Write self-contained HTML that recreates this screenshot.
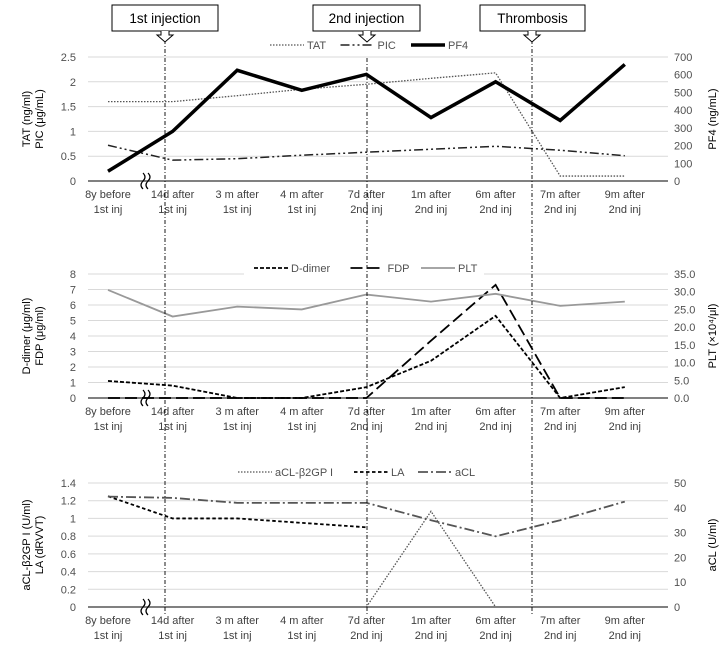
<!DOCTYPE html>
<html><head><meta charset="utf-8"><style>
body{margin:0;background:#fff;}
svg{display:block;font-family:"Liberation Sans",sans-serif;}
</style></head><body>
<svg id="c" width="728" height="648"></svg>
<script>
const categories=["8y before|1st inj","14d after|1st inj","3 m after|1st inj","4 m after|1st inj","7d after|2nd inj","1m after|2nd inj","6m after|2nd inj","7m after|2nd inj","9m after|2nd inj"];
const tatValues=[1.6,1.6,1.72,1.85,1.95,2.07,2.18,0.1,0.1];
const picValues=[0.72,0.42,0.45,0.52,0.58,0.64,0.70,0.62,0.51];
const pf4Values=[55,280,625,512,602,358,560,342,658];
const ddimerValues=[1.1,0.8,0,0,0.7,2.4,5.3,0,0.7];
const fdpValues=[0,0,0,0,0,3.7,7.3,0,0];
const pltValues=[30.5,23,25.8,25,29.2,27.2,29.4,26,27.2];
const acb2Values=[null,null,null,null,0,1.08,0,null,null];
const laValues=[1.25,1.0,1.0,0.95,0.9,null,null,null,null];
const aclValues=[44.5,44,42,42,42,35,28.5,35,42.5];
const leftTicks1=["0","0.5","1","1.5","2","2.5"];
const rightTicks1=["0","100","200","300","400","500","600","700"];
const leftTicks2=["0","1","2","3","4","5","6","7","8"];
const rightTicks2=["0.0","5.0","10.0","15.0","20.0","25.0","30.0","35.0"];
const leftTicks3=["0","0.2","0.4","0.6","0.8","1","1.2","1.4"];
const rightTicks3=["0","10","20","30","40","50"];

const NS="http://www.w3.org/2000/svg";
const svg=document.getElementById('c');
function mk(tag,attrs,parent,text){const e=document.createElementNS(NS,tag);for(const k in attrs)e.setAttribute(k,attrs[k]);if(text!==undefined)e.textContent=text;(parent||svg).appendChild(e);return e;}
const X0=88,X1=668;
function xs(i){return 108+i*64.6;}

function panel(name,top,bot,lmax,rmax,lt,rt,ltitle,rtitle,series,legend,legY,legX){
  const g=mk('g',{});
  
  
  const yl=v=>bot-(v/lmax)*(bot-top);
  const yr=v=>bot-(v/rmax)*(bot-top);
  lt.forEach(t=>{const v=parseFloat(t);const y=yl(v);
    if(v>0){const l=mk('line',{x1:X0,x2:X1,y1:y,y2:y,stroke:'#d9d9d9','stroke-width':1},g);}
    const tx=mk('text',{x:76,y:y+4,'text-anchor':'end','font-size':11,fill:'#505050'},g,t);});
  rt.forEach(t=>{const y=yr(parseFloat(t));const tx=mk('text',{x:674,y:y+4,'font-size':11,fill:'#505050'},g,t);});
  const ax=mk('line',{x1:X0,x2:X1,y1:bot,y2:bot,stroke:'#808080','stroke-width':2},g);
  const br=mk('path',{d:`M143 ${bot-8} q4 4 0 8 q-4 4 0 8 M148 ${bot-8} q4 4 0 8 q-4 4 0 8`,stroke:'#000',fill:'#fff','stroke-width':1.2},g);
  categories.forEach((c,i)=>{const p=c.split('|');
    const t=mk('text',{x:xs(i),y:bot+17,'text-anchor':'middle','font-size':11,fill:'#404040'},g);
    mk('tspan',{x:xs(i)},t,p[0]);mk('tspan',{x:xs(i),dy:15},t,p[1]);});
  const lT=mk('text',{transform:`translate(30,${(top+bot)/2}) rotate(-90)`,'text-anchor':'middle','font-size':11,fill:'#000'},g);
  mk('tspan',{x:0,dy:0},lT,ltitle[0]);mk('tspan',{x:0,dy:13},lT,ltitle[1]);
  const rT=mk('text',{transform:`translate(716,${(top+bot)/2}) rotate(-90)`,'text-anchor':'middle','font-size':11,fill:'#000'},g,rtitle);
  series.forEach(s=>{const sc=s.right?yr:yl;let d='';let pen=false;
    s.vals.forEach((v,i)=>{if(v===null){pen=false;return;}d+=(pen?'L':'M')+xs(i)+' '+sc(v)+' ';pen=true;});
    const p=mk('path',{d:d,fill:'none',stroke:s.color,'stroke-width':s.w,'stroke-dasharray':s.dash||'none'},g);});
  const lb=mk('rect',{x:legX-10,y:legY-10,width:legend.width,height:18,fill:'#fff'},g);
  let lx=legX;
  series.forEach(s=>{const le=mk('g',{},g);
    mk('line',{x1:lx,x2:lx+34,y1:legY,y2:legY,stroke:s.color,'stroke-width':s.w,'stroke-dasharray':s.dash||'none'},le);
    mk('text',{x:lx+37,y:legY+4,'font-size':11,fill:'#505050'},le,s.label);lx+=37+s.label.length*6.5+14;});
}
panel('panel-tat-pic-pf4',57,181,2.5,700,leftTicks1,rightTicks1,["TAT  (ng/ml)","PIC (μg/mL)"],"PF4  (ng/mL)",[
 {name:'line-tat',label:'TAT',vals:tatValues,color:'#555',w:1.3,dash:'1.5 1.5'},
 {name:'line-pic',label:'PIC',vals:picValues,color:'#222',w:1.5,dash:'9 3 2 3 2 3'},
 {name:'line-pf4',label:'PF4',vals:pf4Values,color:'#000',w:3.5,right:true}],{width:230},45,270);
panel('panel-ddimer-fdp-plt',274,398,8,35,leftTicks2,rightTicks2,["D-dimer  (μg/ml)","FDP (μg/ml)"],"PLT (×10⁴/μl)",[
 {name:'line-ddimer',label:'D-dimer',vals:ddimerValues,color:'#000',w:1.8,dash:'4 2'},
 {name:'line-fdp',label:'FDP',vals:fdpValues,color:'#000',w:1.8,dash:'12 5'},
 {name:'line-plt',label:'PLT',vals:pltValues,color:'#999',w:1.8,right:true}],{width:240},268,254);
panel('panel-acl-la',483,607,1.4,50,leftTicks3,rightTicks3,["aCL-β2GP I  (U/ml)","LA  (dRVVT)"],"aCL  (U/ml)",[
 {name:'line-acl-b2gpi',label:'aCL-β2GP I',vals:acb2Values,color:'#555',w:1.3,dash:'1.5 1.5'},
 {name:'line-la',label:'LA',vals:laValues,color:'#000',w:1.8,dash:'3.5 2.5'},
 {name:'line-acl',label:'aCL',vals:aclValues,color:'#555',w:1.8,dash:'10 3 2 3',right:true}],{width:250},472,238);

[[165,40,'1st injection',112,218],[367,58,'2nd injection',313,420],[532,40,'Thrombosis',480,585]].forEach(e=>{
  const l=mk('line',{x1:e[0],x2:e[0],y1:e[1],y2:615,stroke:'#000','stroke-width':0.9,'stroke-dasharray':'4 2 1 2'});
  const g=mk('g',{});
  mk('rect',{x:e[3],y:5,width:e[4]-e[3],height:26,fill:'#fff',stroke:'#000','stroke-width':1},g);
  mk('path',{d:`M${e[0]-4} 31 v4 h-4 l8 7 l8 -7 h-4 v-4`,fill:'#fff',stroke:'#000','stroke-width':1},g);
  mk('text',{x:(e[3]+e[4])/2,y:23,'text-anchor':'middle','font-size':13.5,fill:'#000'},g,e[2]);
});
</script>
</body></html>
